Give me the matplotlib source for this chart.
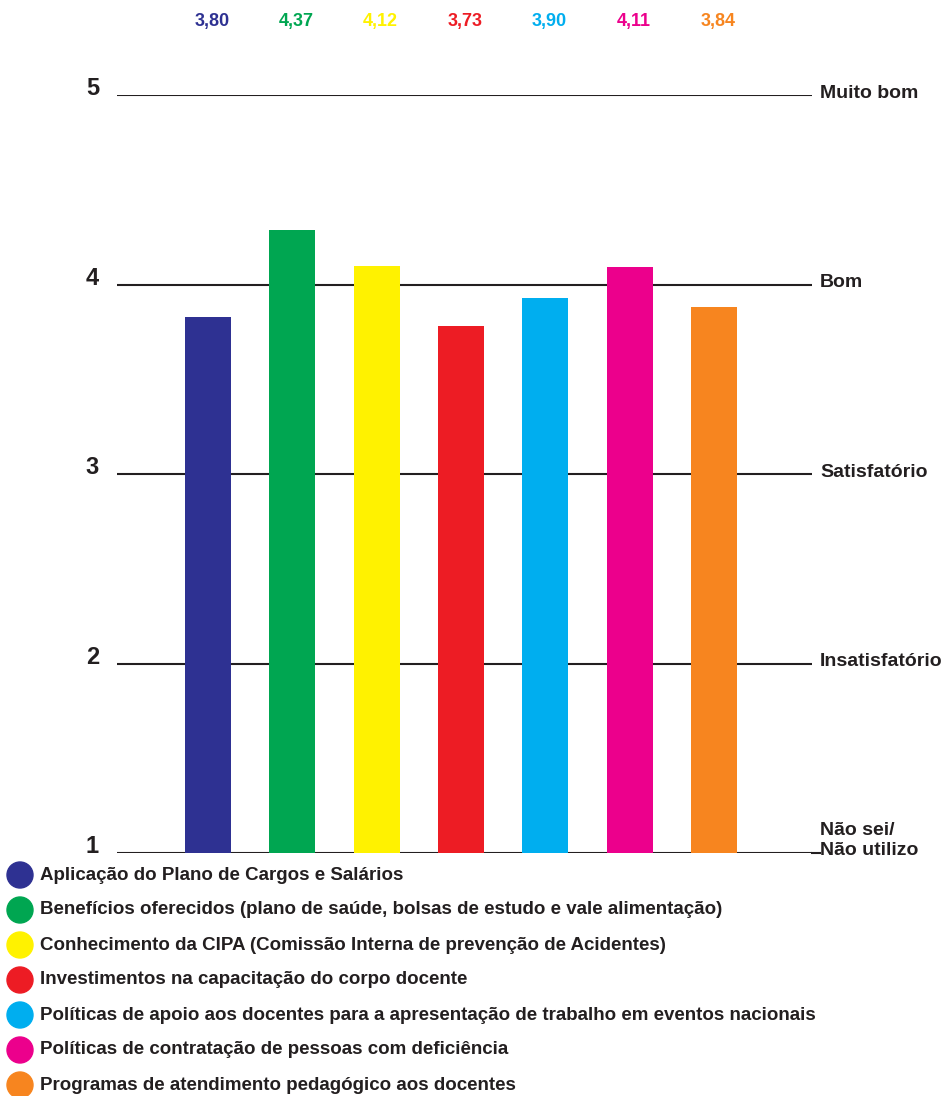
import numpy as np
import matplotlib
matplotlib.use("Agg")
from matplotlib import pyplot as plt
from matplotlib.patches import Ellipse

plt.rcParams['font.family'] = ['Liberation Sans', 'DejaVu Sans']
plt.rcParams['font.weight'] = 'bold'

# data
categories = ["Aplicação do Plano de Cargos e Salários",
              "Benefícios oferecidos (plano de saúde, bolsas de estudo e vale alimentação)",
              "Conhecimento da CIPA (Comissão Interna de prevenção de Acidentes)",
              "Investimentos na capacitação do corpo docente",
              "Políticas de apoio aos docentes para a apresentação de trabalho em eventos nacionais",
              "Políticas de contratação de pessoas com deficiência",
              "Programas de atendimento pedagógico aos docentes"]
score_labels = ["3,80", "4,37", "4,12", "3,73", "3,90", "4,11", "3,84"]
bar_heights = [3.83, 4.29, 4.10, 3.78, 3.93, 4.09, 3.88]
colors = ["#2E3192", "#00A651", "#FFF200", "#ED1C24", "#00AEEF", "#EC008C", "#F7851F"]
levels = [1, 2, 3, 4, 5]
level_names = ["Não sei/\nNão utilizo", "Insatisfatório", "Satisfatório", "Bom", "Muito bom"]

ink = "#231F20"
W, H = 947, 1096
left, right, top, bottom = 117, 812, 95, 853
fig = plt.figure(figsize=(W / 100, H / 100), dpi=100)
ax = fig.add_axes([left / W, 1 - bottom / H, (right - left) / W, (bottom - top) / H])

step = 84.33  # px between bars
x = np.arange(len(bar_heights))
ax.bar(x, np.array(bar_heights) - 1, bottom=1, width=46 / step, color=colors, zorder=2)
x0 = -(208 - left) / step
ax.set_xlim(x0, x0 + (right - left) / step)
ax.set_ylim(1, 5)
px_y = (bottom - top) / 4.0

for lv in levels:
    ax.axhline(lv, color=ink, lw=1.5, zorder=1)
ax.plot([1, 1.012], [0, 0], transform=ax.transAxes, color=ink, lw=1.5, clip_on=False)
ax.axis("off")

# y numbers on the left
for lv in levels:
    ax.text(x0 - 18 / step, lv, str(lv), ha="right", va="baseline", fontsize=17, color=ink)

# level names on the right
xr = 1 + (820 - right) / (right - left)
ytr = ax.get_yaxis_transform()
for lv, name in zip(levels, level_names):
    if lv == 1:
        ax.text(xr, lv + 12.5 / px_y, name, transform=ytr, ha="left", va="center",
                fontsize=14, color=ink, linespacing=1.3)
    else:
        ax.text(xr, lv + 2 / px_y, name, transform=ytr, ha="left", va="center",
                fontsize=14, color=ink)

# scores above
for xi, lab, c in zip(x, score_labels, colors):
    ax.text(xi + 4 / step, 5 + (top - 21) / px_y, lab, ha="center", va="center",
            fontsize=13, color=c, clip_on=False)

# legend
for i, (cat, c) in enumerate(zip(categories, colors)):
    yc = 1 - (875 + 35 * i) / H
    fig.patches.append(Ellipse((20 / W, yc), 26 / W, 26 / H, transform=fig.transFigure,
                               color=c, zorder=3))
    fig.text(40 / W, yc, cat, ha="left", va="center", fontsize=13.5, color=ink)

fig.savefig("out.png", dpi=100)
